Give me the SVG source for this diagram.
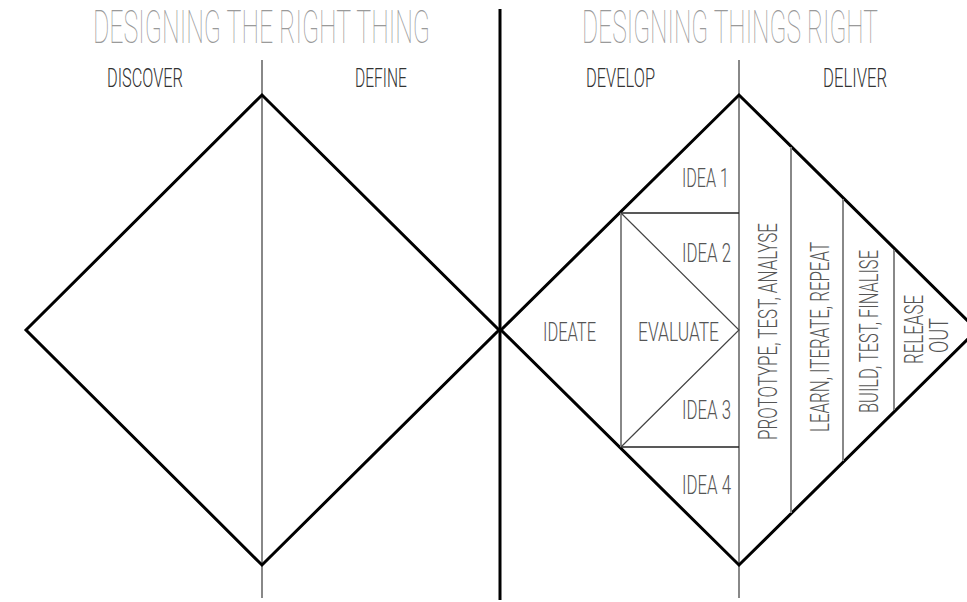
<svg xmlns="http://www.w3.org/2000/svg" width="967" height="602" viewBox="0 0 967 602">
<style>
.title{font-family:Roboto,"Liberation Sans",sans-serif;font-weight:100;font-size:46px;fill:#9a9a9a}
.head{font-family:Roboto,"Liberation Sans",sans-serif;font-weight:300;font-size:26px;fill:#333}
.lbl{font-family:Roboto,"Liberation Sans",sans-serif;font-weight:300;font-size:26px;fill:#555}
.dia{fill:none;stroke:#000;stroke-width:3;stroke-linejoin:miter}
.mid{stroke:#888;stroke-width:2;fill:none}
.thin{stroke:#222;stroke-width:1.3;fill:none}
.diag{stroke:#444;stroke-width:1.2;fill:none}
</style>
<rect width="967" height="602" fill="#fff"/>
<g id="titles">
<text class="title" x="93" y="43" textLength="337" lengthAdjust="spacingAndGlyphs">DESIGNING THE RIGHT THING</text>
<text class="title" x="582" y="43" textLength="296" lengthAdjust="spacingAndGlyphs">DESIGNING THINGS RIGHT</text>
</g>
<g id="divider"><line x1="500" y1="9" x2="500" y2="600" stroke="#000" stroke-width="3"/></g>
<g id="headers">
<text class="head" x="107" y="87" textLength="76" lengthAdjust="spacingAndGlyphs">DISCOVER</text>
<text class="head" x="355" y="87" textLength="52" lengthAdjust="spacingAndGlyphs">DEFINE</text>
<text class="head" x="586" y="87" textLength="69" lengthAdjust="spacingAndGlyphs">DEVELOP</text>
<text class="head" x="823" y="87" textLength="64" lengthAdjust="spacingAndGlyphs">DELIVER</text>
</g>
<g id="diamond-left">
<line class="mid" x1="262" y1="60" x2="262" y2="598"/>
<polygon class="dia" points="26,330 262,95 499,330 262,565"/>
</g>
<g id="diamond-right">
<line class="mid" x1="739" y1="60" x2="739" y2="598"/>
<polygon class="dia" points="501,330 739,95 977,330 739,565"/>
</g>
<g id="connectors">
<line class="thin" x1="620" y1="213" x2="739" y2="213"/>
<line class="thin" x1="620" y1="447" x2="739" y2="447"/>
<line class="mid" x1="621" y1="213" x2="621" y2="447"/>
<polyline class="diag" points="621,213 739,330 621,447"/>
<line class="mid" x1="791" y1="147" x2="791" y2="513"/>
<line class="mid" x1="843" y1="199" x2="843" y2="461"/>
<line class="mid" x1="894" y1="250" x2="894" y2="410"/>
</g>
<g id="develop-labels">
<text class="lbl" x="682" y="187" textLength="47" lengthAdjust="spacingAndGlyphs">IDEA 1</text>
<text class="lbl" x="682" y="262" textLength="49" lengthAdjust="spacingAndGlyphs">IDEA 2</text>
<text class="lbl" x="543" y="341" textLength="53" lengthAdjust="spacingAndGlyphs">IDEATE</text>
<text class="lbl" x="638" y="341" textLength="81" lengthAdjust="spacingAndGlyphs">EVALUATE</text>
<text class="lbl" x="682" y="419" textLength="49" lengthAdjust="spacingAndGlyphs">IDEA 3</text>
<text class="lbl" x="682" y="494" textLength="49" lengthAdjust="spacingAndGlyphs">IDEA 4</text>
</g>
<g id="deliver-labels">
<text class="lbl" transform="translate(777,440) rotate(-90)" textLength="217" lengthAdjust="spacingAndGlyphs">PROTOTYPE, TEST, ANALYSE</text>
<text class="lbl" transform="translate(829,432) rotate(-90)" textLength="190" lengthAdjust="spacingAndGlyphs">LEARN, ITERATE, REPEAT</text>
<text class="lbl" transform="translate(878,413) rotate(-90)" textLength="163" lengthAdjust="spacingAndGlyphs">BUILD, TEST, FINALISE</text>
<text class="lbl" transform="translate(923,364) rotate(-90)" textLength="69" lengthAdjust="spacingAndGlyphs">RELEASE</text>
<text class="lbl" transform="translate(948,353) rotate(-90)" textLength="35" lengthAdjust="spacingAndGlyphs">OUT</text>
</g>
</svg>
